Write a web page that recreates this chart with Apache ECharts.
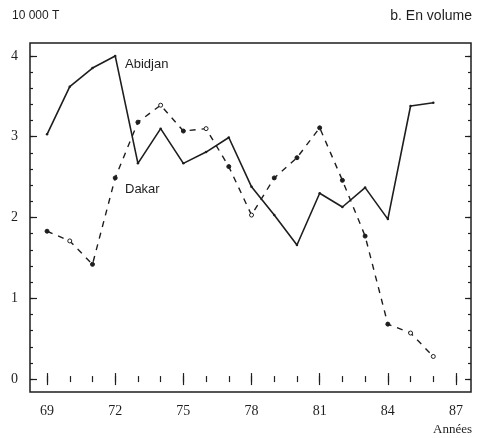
<!DOCTYPE html>
<html>
<head>
<meta charset="utf-8">
<script src="https://cdn.jsdelivr.net/npm/echarts@6/dist/echarts.min.js"></script>
<style>
  html, body { margin: 0; padding: 0; background: #fff; }
  #chart { width: 484px; height: 438px; }
</style>
</head>
<body>
<div id="chart"></div>
<script>
// years on the x axis
const years = [69, 70, 71, 72, 73, 74, 75, 76, 77, 78, 79, 80, 81, 82, 83, 84, 85, 86]
// volumes, in 10 000 T
const abidjan = [3.03, 3.62, 3.85, 4.0, 2.67, 3.1, 2.67, 2.81, 2.99, 2.38, 2.03, 1.66, 2.3, 2.13, 2.37, 1.98, 3.38, 3.42]
const dakar = [1.83, 1.71, 1.42, 2.49, 3.18, 3.39, 3.07, 3.1, 2.63, 2.03, 2.49, 2.74, 3.11, 2.46, 1.77, 0.68, 0.57, 0.28]
const xTickLabels = [69, 72, 75, 78, 81, 84, 87]
const yTickLabels = [0, 1, 2, 3, 4]
const minorX = [69, 70, 71, 72, 73, 74, 75, 76, 77, 78, 79, 80, 81, 82, 83, 84, 85, 86, 87]
const minorY = [0, 0.2, 0.4, 0.6, 0.8, 1, 1.2, 1.4, 1.6, 1.8, 2, 2.2, 2.4, 2.6, 2.8, 3, 3.2, 3.4, 3.6, 3.8, 4]

const ink = '#1e1e1e'
const serif = 'Liberation Serif'
const sans = 'Liberation Sans'
const hollow = [70, 74, 76, 78, 85, 86]

const chart = echarts.init(document.getElementById('chart'))

const xBase = {
  type: 'value', min: 68.25, max: 87.66, gridIndex: 0,
  axisLine: { show: false },
  splitLine: { show: false }
}
const yBase = {
  type: 'value', min: -0.16, max: 4.16, gridIndex: 0,
  axisLine: { show: false },
  splitLine: { show: false }
}

// tick-only axis helper
function ticks(base, position, values, length) {
  return Object.assign({}, base, {
    position: position,
    axisTick: { show: true, inside: true, length: length, customValues: values, lineStyle: { color: ink, width: 1.2 } },
    axisLabel: { show: false }
  })
}

const option = {
  animation: false,
  backgroundColor: '#fff',
  grid: {
    left: 30, right: 13, top: 43, bottom: 46,
    show: true, borderColor: ink, borderWidth: 1.5, backgroundColor: 'transparent'
  },
  xAxis: [
    Object.assign({}, xBase, {
      position: 'bottom',
      axisTick: { show: true, inside: true, length: 6, customValues: xTickLabels, lineStyle: { color: ink, width: 1.2 } },
      axisLabel: { customValues: xTickLabels, color: ink, fontFamily: serif, fontSize: 14, margin: 12 }
    }),
    ticks(xBase, 'bottom', minorX, 3),
    ticks(xBase, 'top', minorX, 3),
    ticks(xBase, 'top', xTickLabels, 6)
  ],
  yAxis: [
    Object.assign({}, yBase, {
      position: 'left',
      axisTick: { show: true, inside: true, length: 7, customValues: yTickLabels, lineStyle: { color: ink, width: 1.2 } },
      axisLabel: { customValues: yTickLabels, color: ink, fontFamily: serif, fontSize: 14, margin: 12 }
    }),
    ticks(yBase, 'left', minorY, 3),
    ticks(yBase, 'right', minorY, 3),
    ticks(yBase, 'right', yTickLabels, 6)
  ],
  series: [
    {
      name: 'Abidjan',
      type: 'line',
      data: years.map((y, i) => [y, abidjan[i]]),
      symbol: 'circle',
      symbolSize: 2.5,
      itemStyle: { color: ink },
      lineStyle: { color: ink, width: 1.6 }
    },
    {
      name: 'Dakar',
      type: 'line',
      data: years.map((y, i) => [y, dakar[i]]),
      symbol: 'circle',
      symbolSize: 4,
      itemStyle: {
        color: function (p) { return hollow.indexOf(p.data[0]) >= 0 ? '#fff' : ink },
        borderColor: ink,
        borderWidth: 1
      },
      lineStyle: { color: ink, width: 1.4, type: [6, 6] }
    }
  ],
  graphic: [
    { type: 'text', left: 12, top: 10, style: { text: '10 000 T', fontFamily: sans, fontSize: 12, fill: ink } },
    { type: 'text', right: 12, top: 9, style: { text: 'b. En volume', fontFamily: sans, fontSize: 14, fill: ink } },
    { type: 'text', left: 125, top: 58, style: { text: 'Abidjan', fontFamily: sans, fontSize: 13, fill: ink } },
    { type: 'text', left: 125, top: 183, style: { text: 'Dakar', fontFamily: sans, fontSize: 13, fill: ink } },
    { type: 'text', right: 12, top: 423, style: { text: 'Années', fontFamily: serif, fontSize: 13, fill: ink } }
  ]
}

chart.setOption(option)
</script>
</body>
</html>
